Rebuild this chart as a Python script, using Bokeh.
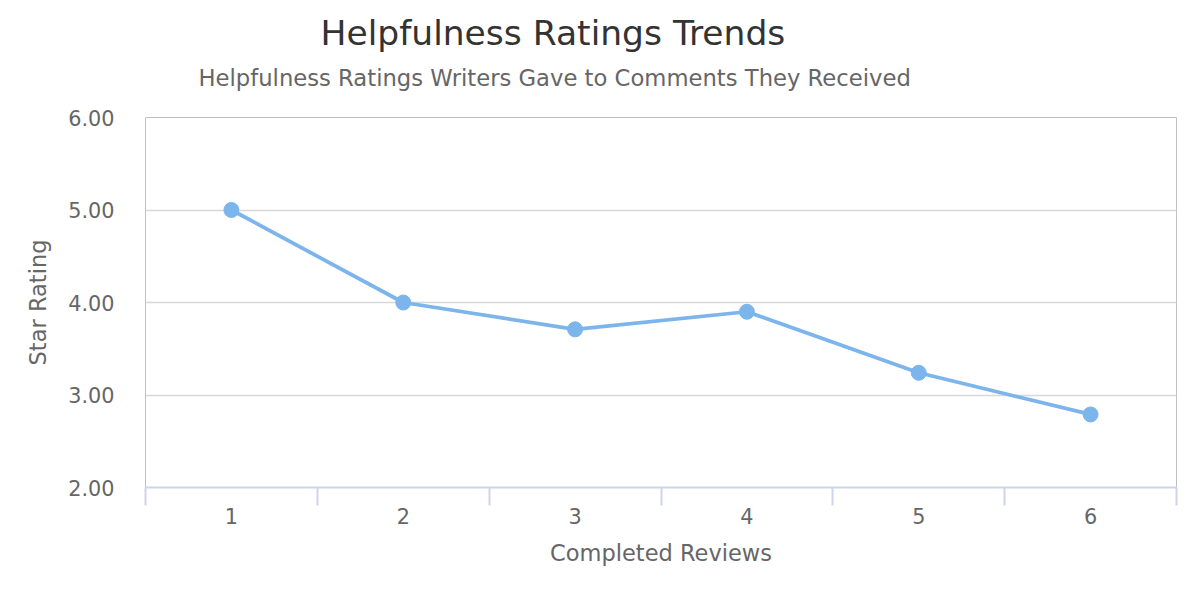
from bokeh.plotting import figure
from bokeh.models import FixedTicker, Range1d, ColumnDataSource, Title
from bokeh.embed import file_html
from bokeh.resources import INLINE

reviews = [1, 2, 3, 4, 5, 6]
ratings = [5.00, 4.00, 3.71, 3.90, 3.24, 2.79]
y_ticks = [2, 3, 4, 5, 6]
y_tick_labels = {2: "2.00", 3: "3.00", 4: "4.00", 5: "5.00", 6: "6.00"}
band_edges = [0.5, 1.5, 2.5, 3.5, 4.5, 5.5, 6.5]

FONT = "DejaVu Sans"

src = ColumnDataSource(dict(x=reviews, y=ratings))

p = figure(width=1191, height=590, output_backend="svg", toolbar_location=None,
           x_range=Range1d(0.5, 6.5), y_range=Range1d(2, 6),
           min_border_left=145, min_border_right=15, min_border_top=117, min_border_bottom=103)
p.title.visible = False
p.outline_line_color = "#c0c0c0"
p.outline_line_width = 1
p.background_fill_color = "white"
p.border_fill_color = "white"

p.line("x", "y", source=src, line_color="#7cb5ec", line_width=3.75)
p.scatter("x", "y", source=src, size=15, fill_color="#7cb5ec", line_color="#7cb5ec")

# x axis
xa = p.xaxis[0]
xa.ticker = FixedTicker(ticks=reviews, minor_ticks=band_edges)
xa.major_tick_line_color = None
xa.minor_tick_line_color = "#ccd6eb"
xa.minor_tick_line_width = 2
xa.minor_tick_out = 18
xa.minor_tick_in = 0
xa.axis_line_color = "#ccd6eb"
xa.axis_line_width = 2
xa.major_label_text_font = FONT
xa.major_label_text_font_size = "20.8px"
xa.major_label_text_color = "#666666"
xa.major_label_standoff = 2
xa.axis_label = "Completed Reviews"
xa.axis_label_text_font = FONT
xa.axis_label_text_font_size = "22.5px"
xa.axis_label_text_font_style = "normal"
xa.axis_label_text_color = "#666666"
xa.axis_label_standoff = 13

# y axis
ya = p.yaxis[0]
ya.ticker = FixedTicker(ticks=y_ticks)
ya.major_label_overrides = y_tick_labels
ya.major_tick_line_color = None
ya.minor_tick_line_color = None
ya.axis_line_color = None
ya.major_label_text_font = FONT
ya.major_label_text_font_size = "20.8px"
ya.major_label_text_color = "#666666"
ya.major_label_standoff = 25
ya.axis_label = "Star Rating"
ya.axis_label_text_font = FONT
ya.axis_label_text_font_size = "22.5px"
ya.axis_label_text_font_style = "normal"
ya.axis_label_text_color = "#666666"
ya.axis_label_standoff = 14

p.xgrid.visible = False
p.ygrid.grid_line_color = "#d8d8d8"
p.ygrid.grid_line_width = 1.5

spacer = Title(text=" ", text_font_size="1px", standoff=24)
subtitle = Title(text="Helpfulness Ratings Writers Gave to Comments They Received",
                 text_font=FONT, text_font_size="22.7px", text_color="#666666",
                 text_font_style="normal", align="left", offset=53, standoff=0)
title = Title(text="Helpfulness Ratings Trends",
              text_font=FONT, text_font_size="34.5px", text_color="#333333",
              text_font_style="normal", align="left", offset=175, standoff=20)
p.add_layout(spacer, "above")
p.add_layout(subtitle, "above")
p.add_layout(title, "above")

open("out.html", "w").write(file_html(p, INLINE))
